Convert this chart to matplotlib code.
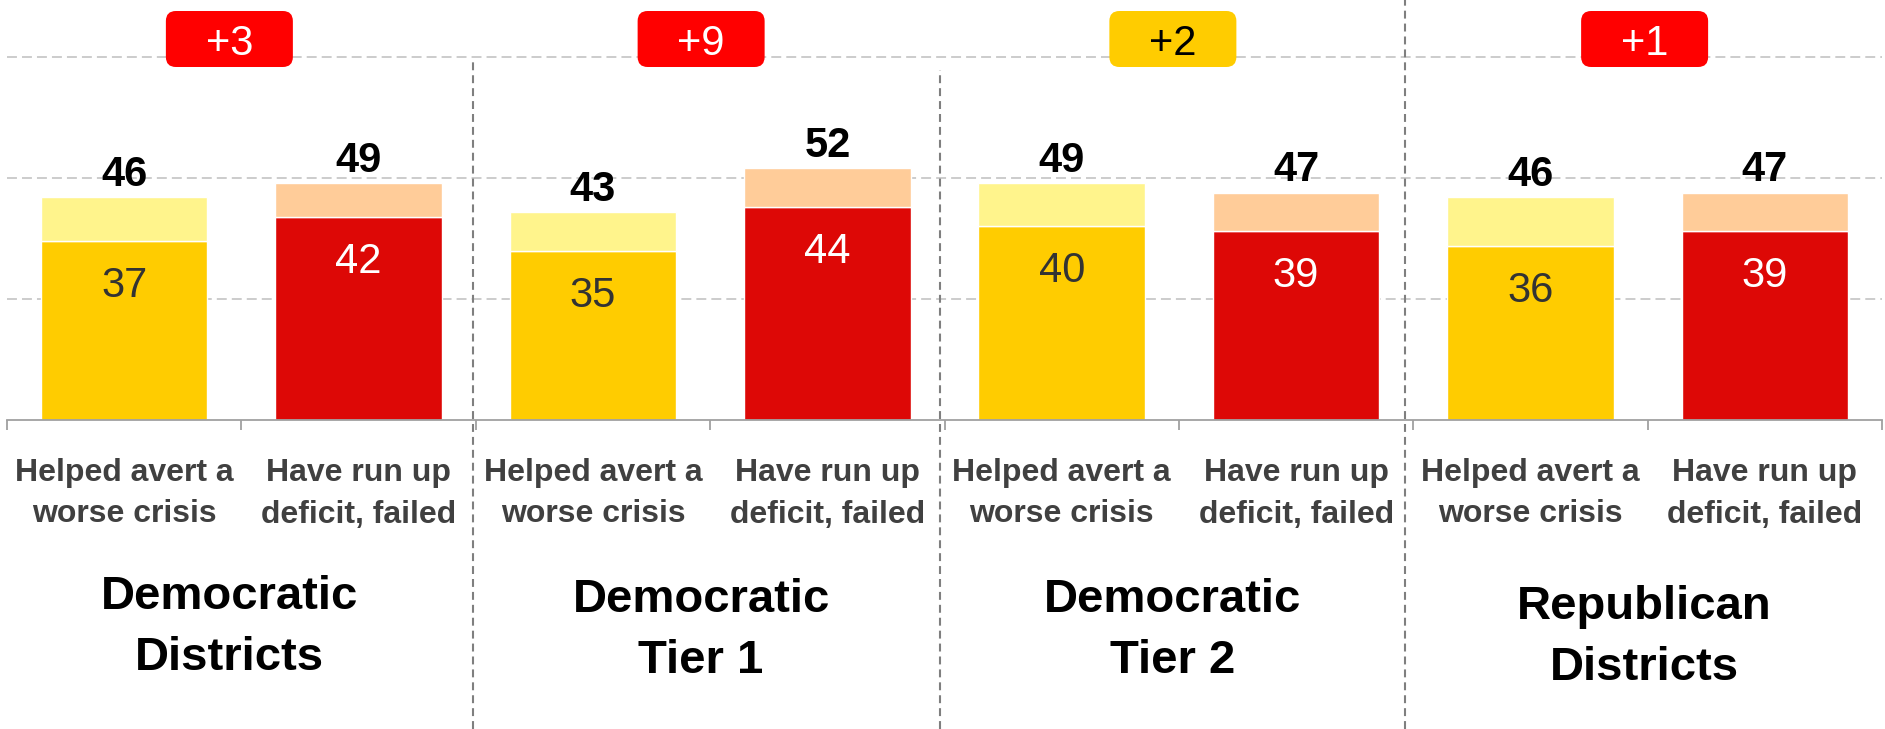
import matplotlib
matplotlib.use("Agg")
import matplotlib.pyplot as plt
import numpy as np
from matplotlib.patches import FancyBboxPatch
from matplotlib.transforms import IdentityTransform

plt.rcParams['font.family'] = ['Liberation Sans', 'DejaVu Sans']

groups = ['Democratic\nDistricts', 'Democratic\nTier 1', 'Democratic\nTier 2', 'Republican\nDistricts']
answers = ['Helped avert a\nworse crisis', 'Have run up\ndeficit, failed']
helped_strong = [37, 35, 40, 36]
helped_total = [46, 43, 49, 46]
failed_strong = [42, 44, 39, 39]
failed_total = [49, 52, 47, 47]
margins = ['+3', '+9', '+2', '+1']
margin_colors = ['#FF0000', '#FF0000', '#FFCC00', '#FF0000']
margin_text = ['white', 'white', 'black', 'white']

W, H = 1885, 729
fig = plt.figure(figsize=(W / 100, H / 100), dpi=100)
ax_bottom = 309
ax_h = 420
ax = fig.add_axes([7 / W, ax_bottom / H, 1875 / W, ax_h / H])

px_per_unit = 4.84
ax.set_ylim(0, ax_h / px_per_unit)
ax.set_xlim(-0.5, 7.5)


def ay(ypx):
    # pixel row from top of the figure -> axes fraction
    return (H - ypx - ax_bottom) / ax_h


x = np.arange(8)
hx = x[0::2]
fx = x[1::2]
hs = np.array(helped_strong)
ht = np.array(helped_total)
fs = np.array(failed_strong)
ft = np.array(failed_total)

bw = 0.71
ax.bar(hx, hs, bw, color='#FFCC00', edgecolor='white', linewidth=1, zorder=2)
ax.bar(hx, ht - hs, bw, bottom=hs, color='#FFF48C', edgecolor='white', linewidth=1, zorder=2)
ax.bar(fx, fs, bw, color='#DD0806', edgecolor='white', linewidth=1, zorder=2)
ax.bar(fx, ft - fs, bw, bottom=fs, color='#FFCC99', edgecolor='white', linewidth=1, zorder=2)

# grid + axis
ax.set_yticks([25, 50, 75])
ax.yaxis.grid(True, color='#C8C8C8', linestyle=(0, (5.5, 2.8)), linewidth=1.3, zorder=0)
ax.set_axisbelow(True)
ax.tick_params(axis='y', left=False, labelleft=False)
for s in ['top', 'left', 'right']:
    ax.spines[s].set_visible(False)
ax.spines['bottom'].set_color('#A0A0A0')
ax.spines['bottom'].set_linewidth(1.3)
ax.set_xticks(np.arange(-0.5, 8, 1))
ax.tick_params(axis='x', length=7.5, width=1.3, color='#A0A0A0', labelbottom=False)

# value labels
for xs, st, tot, incol in [(hx, hs, ht, '#333333'), (fx, fs, ft, 'white')]:
    for xi, s, t in zip(xs, st, tot):
        ax.annotate(str(t), (xi, t), xytext=(0, 8), textcoords='offset points',
                    ha='center', va='baseline', fontsize=30, fontweight='bold', color='black')
        ax.annotate(str(s), (xi, s), xytext=(0, -40.3), textcoords='offset points',
                    ha='center', va='baseline', fontsize=30, color=incol)

tr = ax.get_xaxis_transform()
# answer labels
for i in range(8):
    ax.text(x[i], ay(458), answers[i % 2], transform=tr, ha='center', va='top',
            fontsize=23, fontweight='bold', color='#404040', linespacing=1.5)

# group labels and margin badges
shift = [-12, -9, -6, -3]
label_top = [575, 578, 578, 585]
for g in range(4):
    gx = 2 * g + 0.5
    cx = ax.transData.transform((gx, 0))[0] + shift[g]
    fig.text(cx / W, (H - label_top[g]) / H, groups[g], ha='center', va='top',
             fontsize=34, fontweight='bold', color='black', linespacing=1.49)
    bw_px, bh_px = 127, 56
    badge = FancyBboxPatch((cx - bw_px / 2, H - 67), bw_px, bh_px,
                           boxstyle='round,pad=0,rounding_size=10',
                           facecolor=margin_colors[g], edgecolor='none',
                           transform=IdentityTransform(), zorder=5)
    fig.patches.append(badge)
    fig.text(cx / W, (H - 55) / H, margins[g], ha='center', va='baseline',
             fontsize=30, color=margin_text[g], zorder=6)

# group separators
sep_x = [1.49, 3.48, 5.465]
sep_top = [62, 70, 0]
for sx, st in zip(sep_x, sep_top):
    ax.plot([sx, sx], [ay(H), ay(st)], transform=tr, color='#7F7F7F',
            linestyle=(0, (3.8, 2.4)), linewidth=1.5, clip_on=False, zorder=1)

fig.savefig('out.png', dpi=100)
